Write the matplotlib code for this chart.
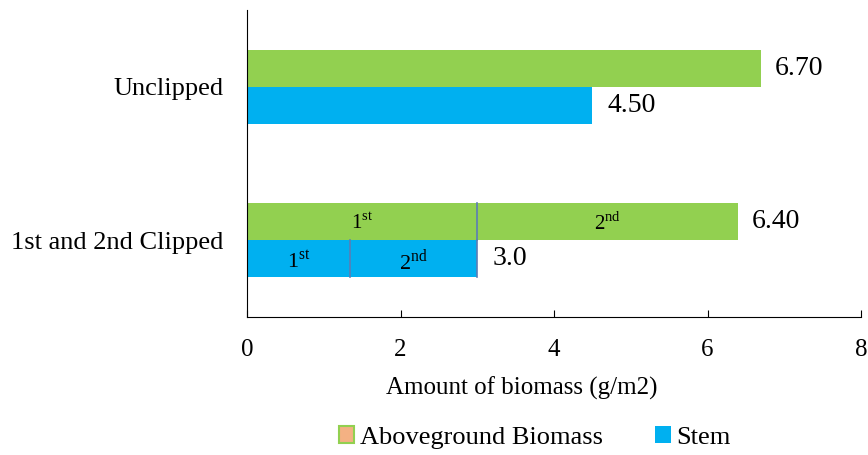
import matplotlib.pyplot as plt
from matplotlib.patches import Patch

plt.rcParams['font.family'] = 'Liberation Serif'
plt.rcParams['mathtext.fontset'] = 'custom'
plt.rcParams['mathtext.rm'] = 'Liberation Serif'

# data
categories = ['1st and 2nd Clipped', 'Unclipped']
above_total = [6.40, 6.70]
stem_total = [3.0, 4.50]
above_cuts = [3.0, 3.4]     # 1st and 2nd clipping, aboveground
stem_cuts = [1.34, 1.66]    # 1st and 2nd clipping, stem
cut_labels = [r'1$^{\rm st}$', r'2$^{\rm nd}$']
above_text = ['6.40', '6.70']
stem_text = ['3.0', '4.50']

green = '#92D050'
blue = '#00B0F0'
divider = '#5B7DB5'
h = 0.24

fig = plt.figure(figsize=(8.68, 4.55), dpi=100)
ax = fig.add_axes([0.2846, 0.3033, 0.7074, 0.675])

# unclipped: plain bars
ax.barh(1 + h / 2, above_total[1], height=h, color=green)
ax.barh(1 - h / 2, stem_total[1], height=h, color=blue)

# clipped: segmented bars
left_a, left_s = 0, 0
for i in range(2):
    ax.barh(h / 2, above_cuts[i], left=left_a, height=h, color=green)
    ax.barh(-h / 2, stem_cuts[i], left=left_s, height=h, color=blue)
    ax.text(left_a + above_cuts[i] / 2, h / 2 - 0.01, cut_labels[i],
            ha='center', va='center', fontsize=15)
    ax.text(left_s + stem_cuts[i] / 2, -h / 2 - 0.02, cut_labels[i],
            ha='center', va='center', fontsize=16)
    left_a += above_cuts[i]
    left_s += stem_cuts[i]
    ax.plot([left_s, left_s], [-h, 0], color=divider, lw=1.2)
ax.plot([above_cuts[0], above_cuts[0]], [0, h], color=divider, lw=1.2)

# value labels
for y in range(2):
    ax.text(above_total[y] + 0.18, y + h / 2, above_text[y],
            va='center', ha='left', fontsize=20)
    ax.text(stem_total[y] + 0.2, y - h / 2, stem_text[y],
            va='center', ha='left', fontsize=20)

ax.set_xlim(0, 8)
ax.set_ylim(-0.5, 1.5)
ax.set_xticks([0, 2, 4, 6, 8])
ax.set_yticks([0, 1])
ax.set_yticklabels(categories, fontsize=19)
ax.tick_params(axis='x', direction='in', length=5, labelsize=18, pad=16)
ax.tick_params(axis='y', length=0, pad=17)
ax.spines['top'].set_visible(False)
ax.spines['right'].set_visible(False)
ax.set_xlabel('Amount of biomass (g/m2)', fontsize=18, labelpad=10)
ax.xaxis.set_label_coords(0.448, -0.195)

handles = [Patch(facecolor='#F4B183', edgecolor=green, linewidth=1.5),
           Patch(facecolor=blue)]
fig.legend(handles, ['Aboveground Biomass', 'Stem'], loc='center',
           bbox_to_anchor=(0.616, 0.038), ncol=2, frameon=False, fontsize=19,
           handlelength=0.6, handleheight=0.6, handletextpad=0.2,
           columnspacing=2.0)

fig.savefig('out.png', dpi=100)
